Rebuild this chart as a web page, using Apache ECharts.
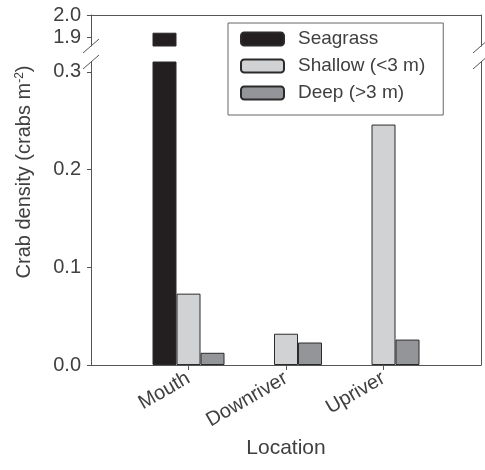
<!DOCTYPE html>
<html>
<head>
<meta charset="utf-8">
<script src="https://cdn.jsdelivr.net/npm/echarts@6/dist/echarts.min.js"></script>
<style>html,body{margin:0;padding:0;background:#fff}#c{width:485px;height:470px}</style>
</head>
<body>
<div id="c"></div>
<script>
const categories = ['Mouth', 'Downriver', 'Upriver'];
const seagrass = [1.92, null, null];
const shallow = [0.073, 0.032, 0.246];
const deep = [0.0125, 0.023, 0.026];
const upperTicks = [1.9, 2.0];
const lowerTicks = [0.0, 0.1, 0.2, 0.3];

const FONT = '"Liberation Sans", Arial, Helvetica, sans-serif';
const TXT = '#404040';
const AX = '#555';
const W = 485, H = 470;
const L = 91, R = 4;
const UP_TOP = 15, UP_BOT = 46, LO_TOP = 62, LO_BOT = 365;

const axisData = [''].concat(categories, ['']);
const pad = a => [null].concat(a.map(v => v == null ? null : v), [null]);
const nulls = a => [null].concat(a.map(() => null), [null]);

const colors = { s: '#231f20', sh: '#d1d2d4', d: '#939598' };
const border = '#2b2b2b';

function bar(name, data, color, idx) {
  return {
    type: 'bar', name, data, xAxisIndex: idx, yAxisIndex: idx * 2,
    barWidth: 24, barGap: '0%', clip: true,
    itemStyle: { color, borderColor: border, borderWidth: 1 },
    emphasis: { disabled: true }
  };
}

const catAxisCommon = {
  type: 'category', data: axisData, boundaryGap: false,
  axisLine: { show: true, lineStyle: { color: AX, width: 1 } }
};

function slash(x, y) {
  return { type: 'line', shape: { x1: x - 8, y1: y + 7, x2: x + 8, y2: y - 7 },
    style: { stroke: AX, lineWidth: 1 } };
}
const RX = W - R;

const chart = echarts.init(document.getElementById('c'));
chart.setOption({
  animation: false,
  textStyle: { fontFamily: FONT, color: TXT },
  grid: [
    { left: L, right: R, top: UP_TOP, height: UP_BOT - UP_TOP },
    { left: L, right: R, top: LO_TOP, bottom: H - LO_BOT }
  ],
  xAxis: [
    Object.assign({}, catAxisCommon, { gridIndex: 0, position: 'top',
      axisTick: { show: false }, axisLabel: { show: false } }),
    Object.assign({}, catAxisCommon, { gridIndex: 1, position: 'bottom',
      axisTick: { show: true, length: 5, lineStyle: { color: AX },
        interval: (i) => i > 0 && i < axisData.length - 1 },
      axisLabel: { interval: 0, rotate: 30, margin: 12, fontSize: 20, color: TXT, fontFamily: FONT },
      name: 'Location', nameLocation: 'middle', nameGap: 73,
      nameTextStyle: { fontSize: 21, color: TXT, fontFamily: FONT } })
  ],
  yAxis: [
    { type: 'value', gridIndex: 0, min: 1.86, max: 2.0, position: 'left',
      axisLine: { show: true, lineStyle: { color: AX } },
      axisTick: { show: true, length: 4, customValues: upperTicks, lineStyle: { color: AX } },
      axisLabel: { customValues: upperTicks, formatter: v => v.toFixed(1), fontSize: 20, margin: 10, color: TXT, fontFamily: FONT },
      splitLine: { show: false } },
    { type: 'value', gridIndex: 0, min: 1.86, max: 2.0, position: 'right',
      axisLine: { show: true, lineStyle: { color: AX } },
      axisTick: { show: false }, axisLabel: { show: false }, splitLine: { show: false } },
    { type: 'value', gridIndex: 1, min: 0, max: 0.31, position: 'left',
      axisLine: { show: true, lineStyle: { color: AX } },
      axisTick: { show: true, length: 4, customValues: lowerTicks, lineStyle: { color: AX } },
      axisLabel: { customValues: lowerTicks, formatter: v => v.toFixed(1), fontSize: 20, margin: 10, color: TXT, fontFamily: FONT },
      splitLine: { show: false } },
    { type: 'value', gridIndex: 1, min: 0, max: 0.31, position: 'right',
      axisLine: { show: true, lineStyle: { color: AX } },
      axisTick: { show: false }, axisLabel: { show: false }, splitLine: { show: false } }
  ],
  legend: {
    data: ['Seagrass', 'Shallow (<3 m)', 'Deep (>3 m)'],
    orient: 'vertical', left: 228, top: 23,
    padding: [6, 18, 12, 12], itemGap: 7, itemWidth: 43, itemHeight: 13,
    borderColor: '#666', borderWidth: 1, backgroundColor: '#fff',
    selectedMode: false,
    textStyle: { fontSize: 19, color: TXT, fontFamily: FONT, lineHeight: 20, padding: [0, 0, 0, 9] }
  },
  graphic: [
    slash(L, UP_BOT), slash(L, LO_TOP), slash(RX, UP_BOT), slash(RX, LO_TOP),
    { type: 'text', x: 24, y: 172, rotation: Math.PI / 2,
      style: { text: 'Crab density (crabs m{sup|-2})', fill: TXT, font: '20px ' + FONT,
        align: 'center', verticalAlign: 'middle',
        rich: { sup: { fontSize: 12, verticalAlign: 'top', padding: [0, 0, 9, 0], fill: TXT, fontFamily: FONT } } } }
  ],
  series: [
    bar('Seagrass', pad(seagrass), colors.s, 0),
    bar('Shallow (<3 m)', nulls(shallow), colors.sh, 0),
    bar('Deep (>3 m)', nulls(deep), colors.d, 0),
    bar('Seagrass', pad(seagrass), colors.s, 1),
    bar('Shallow (<3 m)', pad(shallow), colors.sh, 1),
    bar('Deep (>3 m)', pad(deep), colors.d, 1)
  ]
});
</script>
</body>
</html>
